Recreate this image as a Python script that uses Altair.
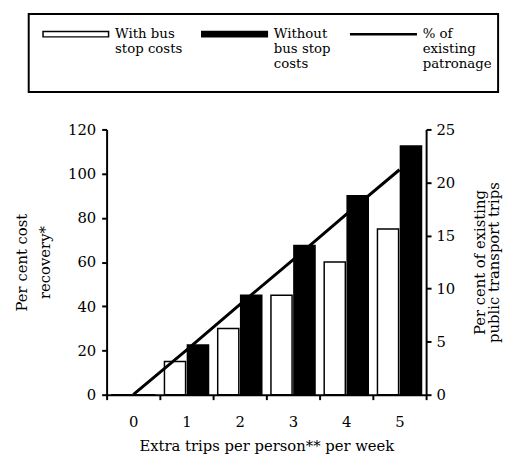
import json
import altair as alt
import pandas as pd

# ---- data ----
trips = [0, 1, 2, 3, 4, 5]
with_bus_stop = [0, 15, 30, 45, 60, 75]            # per cent cost recovery (left axis)
without_bus_stop = [0, 22.5, 45, 67.5, 90, 112.5]  # per cent cost recovery (left axis)
patronage_pct = [0, 4.2, 8.5, 12.7, 17.0, 21.2]    # % of existing trips (right axis)

series_names = ["With bus stop costs", "Without bus stop costs", "% of existing patronage"]
series_lines = [["With bus", "stop costs", "", ""], ["Without", "bus stop", "costs", ""], ["% of", "existing", "patronage", ""]]

left_ticks = [0, 20, 40, 60, 80, 100, 120]
right_ticks = [0, 5, 10, 15, 20, 25]

FONT = "DejaVu Serif"

bar_rows = []
for i, t in enumerate(trips):
    bar_rows.append({"trip": t, "series": series_names[0], "value": with_bus_stop[i]})
    bar_rows.append({"trip": t, "series": series_names[1], "value": without_bus_stop[i]})
bar_df = pd.DataFrame(bar_rows)
line_df = pd.DataFrame({"trip": trips, "pct": patronage_pct})
legend_df = pd.DataFrame({"series": series_names})

label_expr = " : ".join(
    f"datum.label == {json.dumps(n)} ? {json.dumps(l)}" for n, l in zip(series_names, series_lines)
) + " : datum.label"

# legend symbol shapes (unit = half of nominal symbol size, r = 3 px)
outline_path = ("M-11.33,1.33H11.33V3.67H-11.33Z"
                "M-10.83,1.83V3.17H10.83V1.83Z")
solid_path = "M-11.33,1.33H11.33V3.67H-11.33Z"
line_path = "M-11.33,2.08H11.33V2.92H-11.33Z"

legend = alt.Legend(
    title=None, orient="none", legendX=-79, legendY=-117,
    direction="horizontal", columns=3, columnPadding=11, rowPadding=0,
    symbolSize=36, symbolFillColor="black", symbolStrokeWidth=0,
    symbolOpacity=1, symbolOffset=35, labelOffset=33,
    labelExpr=label_expr, labelBaseline="top",
    labelFont=FONT, labelFontSize=13.5, labelColor="black",
    labelLimit=300, strokeColor="black", padding=6,
)

x_enc = alt.X(
    "trip:O", title="Extra trips per person** per week",
    scale=alt.Scale(paddingInner=0, paddingOuter=0),
    axis=alt.Axis(tickBand="extent", labelAngle=0, labelPadding=15, titlePadding=10),
)

fill_scale = alt.Scale(domain=series_names[:2], range=["white", "black"])

bars = alt.Chart(bar_df).mark_bar(stroke="black", strokeWidth=1.5).encode(
    x=x_enc,
    xOffset=alt.XOffset("series:N", scale=alt.Scale(domain=series_names[:2], paddingInner=0.08, paddingOuter=0.2)),
    y=alt.Y("value:Q", title=["Per cent cost", "recovery*"],
            scale=alt.Scale(domain=[0, 120], nice=False),
            axis=alt.Axis(orient="left", values=left_ticks, labelPadding=6, titlePadding=15, titleLineHeight=24)),
    fill=alt.Fill("series:N", scale=fill_scale, legend=None),
)

line = alt.Chart(line_df).mark_line(color="black", strokeWidth=3).encode(
    x=alt.X("trip:O"),
    y=alt.Y("pct:Q", title=["Per cent of existing", "public transport trips"],
            scale=alt.Scale(domain=[0, 25], nice=False),
            axis=alt.Axis(orient="right", values=right_ticks, labelPadding=5, titlePadding=19,
                          titleAngle=270, titleLineHeight=14)),
)

legend_layer = alt.Chart(legend_df).transform_filter("false").mark_point(
    filled=True, color="black", size=36, opacity=1
).encode(
    shape=alt.Shape("series:N", scale=alt.Scale(domain=series_names, range=[outline_path, solid_path, line_path]),
                    legend=legend),
)

chart = alt.layer(bars, line, legend_layer).resolve_scale(y="independent").properties(
    width=324, height=269,
    padding={"left": 100, "top": 120, "right": 80, "bottom": 58},
    autosize=alt.AutoSizeParams(type="none"),
    background="white",
).configure_view(strokeWidth=0).configure_axis(
    grid=False, domainColor="black", domainWidth=2, tickColor="black", tickWidth=2, tickSize=5,
    labelFont=FONT, labelFontSize=15, labelColor="black",
    titleFont=FONT, titleFontSize=15, titleFontWeight="normal", titleColor="black",
).configure_legend(strokeWidth=2)

chart.save("out.html", embed_options={"renderer": "svg", "actions": False})
